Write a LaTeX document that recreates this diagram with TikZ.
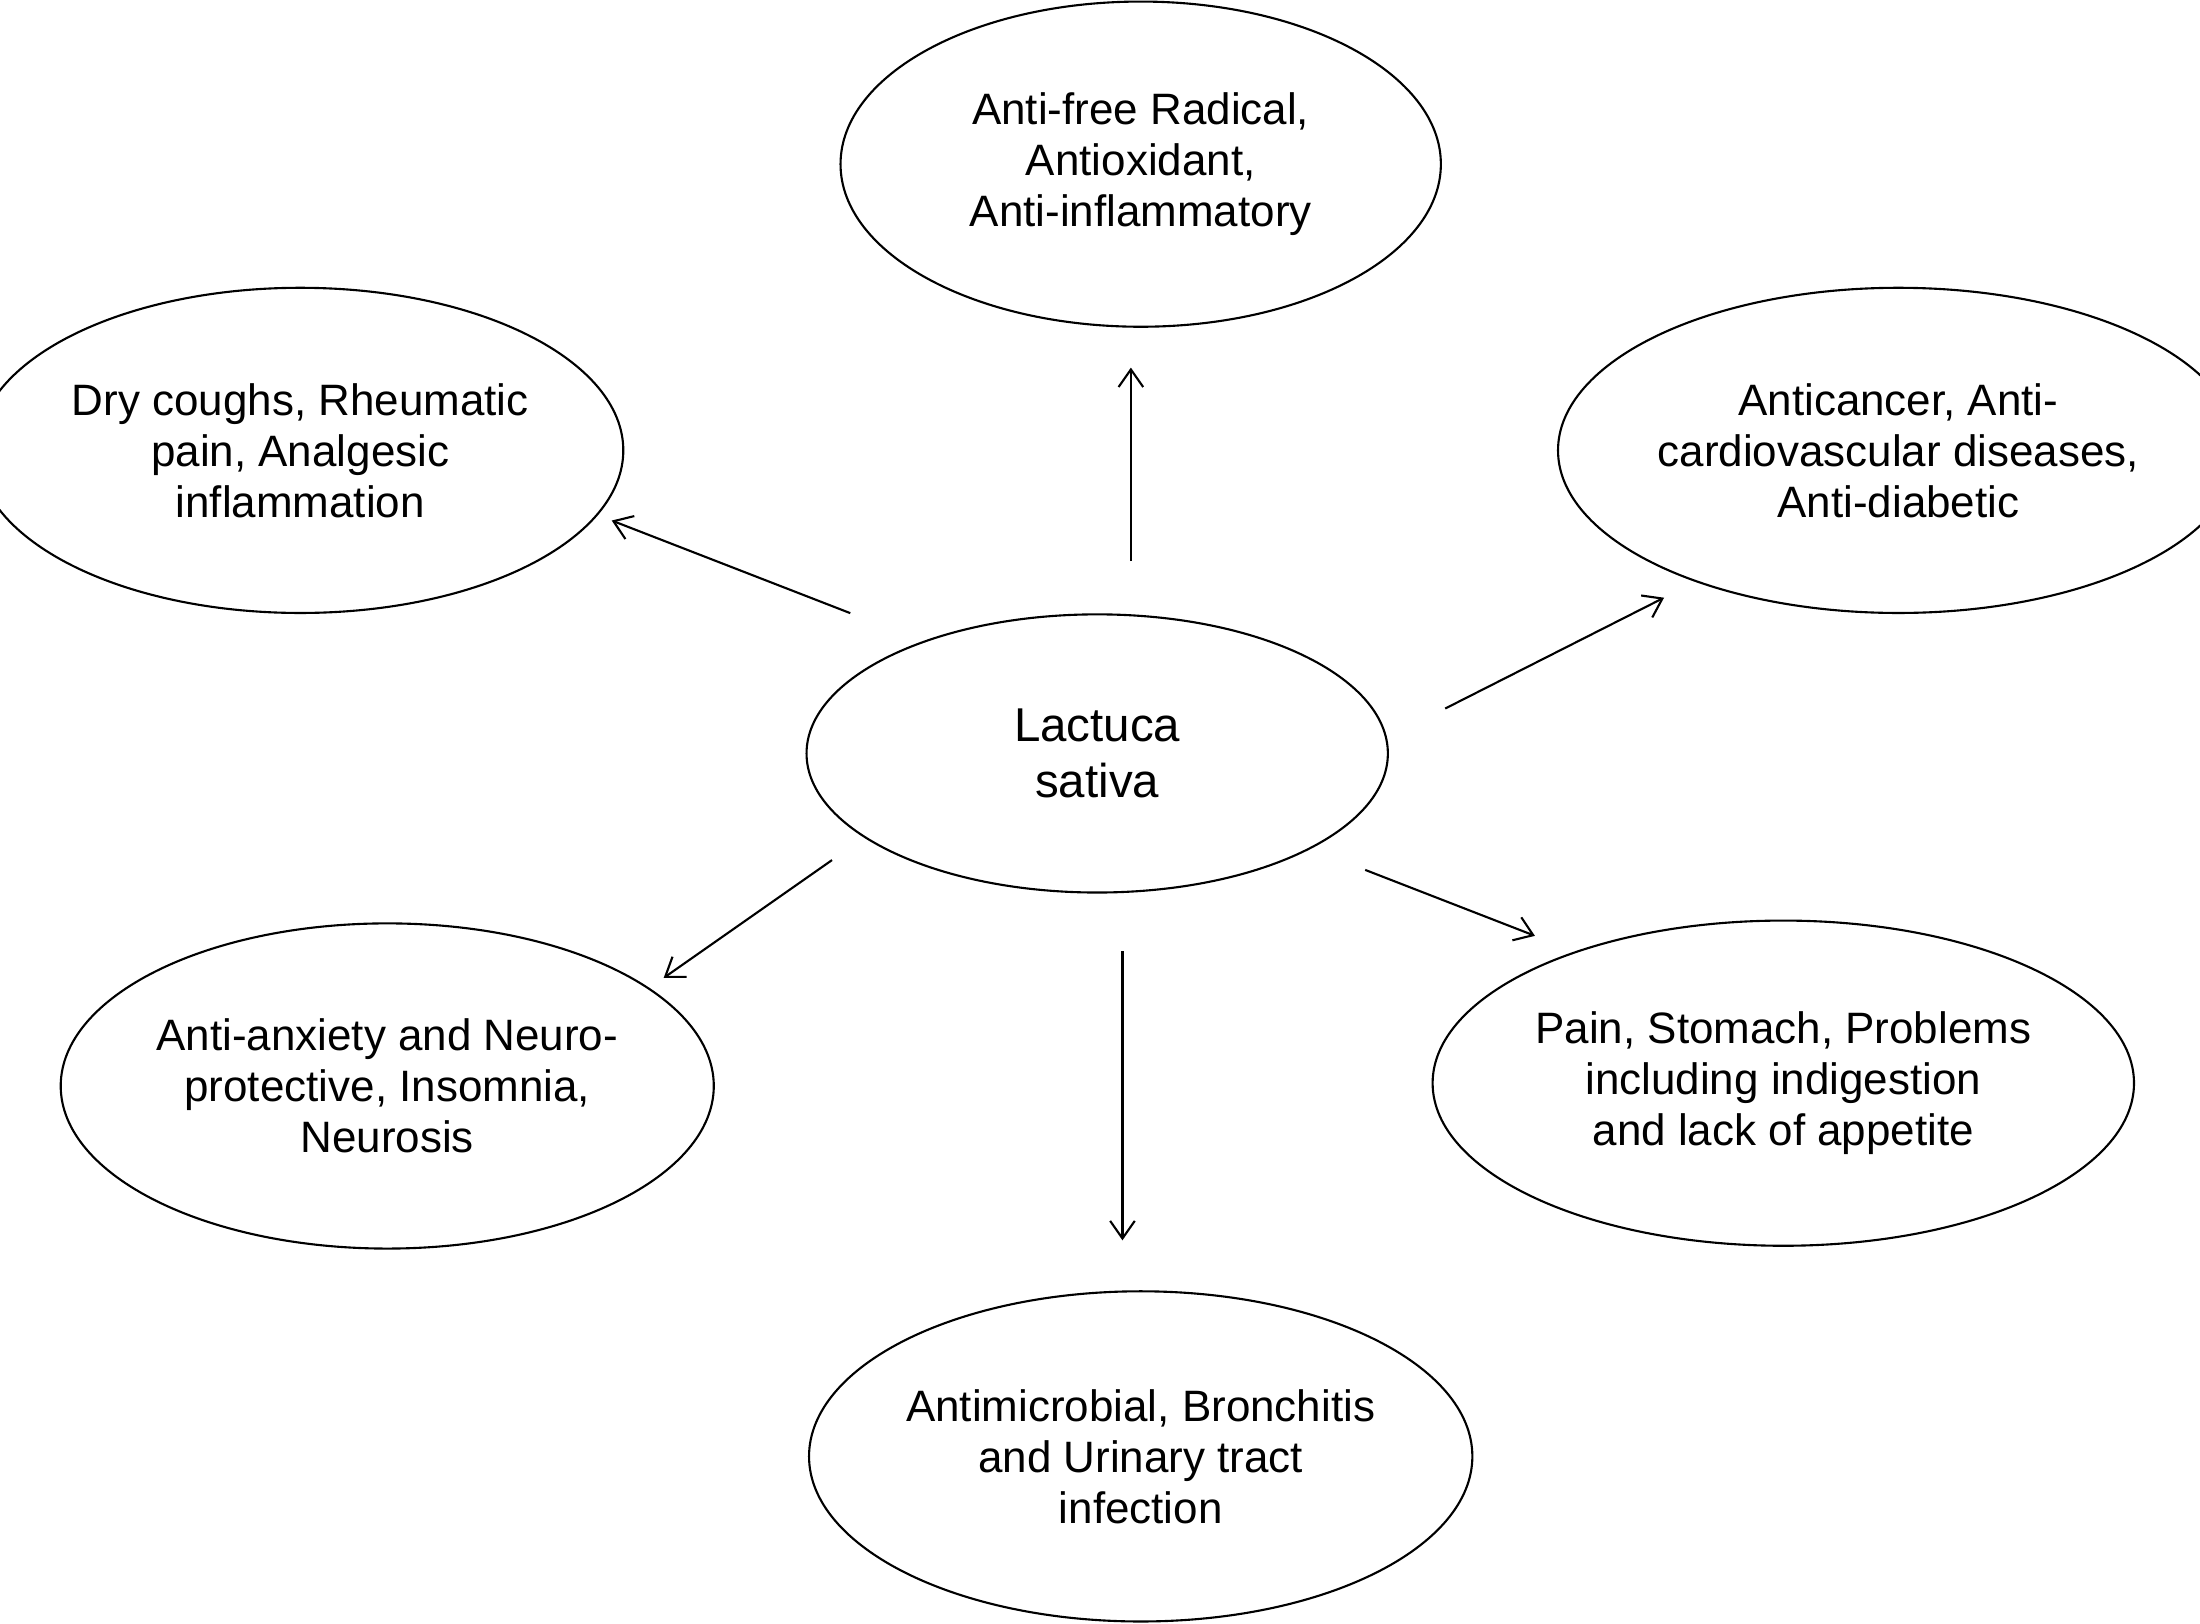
\documentclass[tikz,border=0pt]{standalone}
\usepackage{fontspec}
\setmainfont{Liberation Sans}
\usetikzlibrary{shapes.geometric,arrows.meta}
\begin{document}
\begin{tikzpicture}[x=0.01403cm,y=-0.01403cm,
  el/.style={draw,ellipse,line width=0.6pt,minimum width=428\pgflinewidth,inner sep=0pt,align=center,font=\fontsize{12.5}{14.5}\selectfont},
  arr/.style={-{Straight Barb[length=5pt,width=7pt]},line width=0.6pt}]
\useasboundingbox (0,0) rectangle (1568,1157);
\tikzset{big/.style={el,minimum width=6.0cm,minimum height=3.25cm}}
\node[big] (top) at (813,117) {Anti-free Radical,\\Antioxidant,\\Anti-inflammatory};
\node[big] (lu) at (214,321) {Dry coughs, Rheumatic\\pain, Analgesic\\inflammation};
\node[big] (ru) at (1353,321) {Anticancer, Anti-\\cardiovascular diseases,\\Anti-diabetic};
\node[el,minimum width=5.81cm,minimum height=2.78cm,font=\fontsize{13.5}{16}\selectfont] (c) at (782,537) {Lactuca\\sativa};
\node[big] (ll) at (276,774) {Anti-anxiety and Neuro-\\protective, Insomnia,\\Neurosis};
\node[big] (rl) at (1271,772) {Pain, Stomach, Problems\\including indigestion\\and lack of appetite};
\node[big,minimum height=3.3cm] (bot) at (813,1038) {Antimicrobial, Bronchitis\\and Urinary tract\\infection};
\coordinate (a1) at (806,400); \coordinate (b1) at (806,262);
\coordinate (a2) at (606,437); \coordinate (b2) at (436,371);
\coordinate (a3) at (1030,505); \coordinate (b3) at (1186,426);
\coordinate (a4) at (593,613); \coordinate (b4) at (473,697);
\coordinate (a5) at (800,678); \coordinate (b5) at (800,884);
\coordinate (a6) at (973,620); \coordinate (b6) at (1094,667);
\foreach \i in {1,...,6}{\draw[arr] (a\i) -- (b\i);}
\end{tikzpicture}
\end{document}
